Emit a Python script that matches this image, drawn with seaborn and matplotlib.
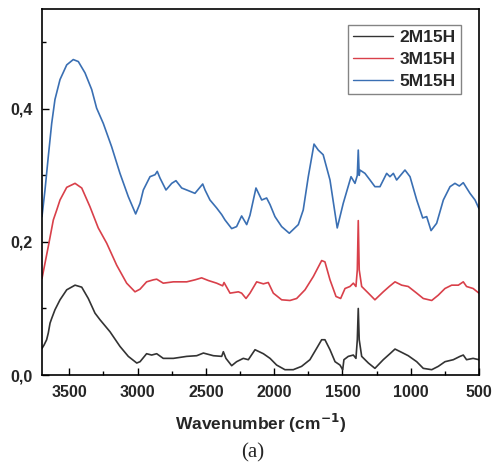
import numpy as np
import pandas as pd
import seaborn as sns
import matplotlib
matplotlib.use("Agg")
import matplotlib.pyplot as plt
from matplotlib.ticker import MultipleLocator

# --- data ---
wn_5m = [3700, 3678, 3654, 3629, 3605, 3568, 3519, 3471, 3434, 3385, 3336, 3300, 3251, 3190,
         3129, 3068, 3014, 2982, 2958, 2909, 2872, 2856, 2836, 2792, 2750, 2719, 2677, 2640,
         2580, 2523, 2506, 2470, 2421, 2384, 2360, 2311, 2275, 2238, 2201, 2177, 2133, 2091,
         2055, 2030, 1994, 1945, 1889, 1823, 1787, 1750, 1708, 1677, 1641, 1591, 1538, 1494,
         1437, 1408, 1391, 1384, 1377, 1372, 1335, 1298, 1262, 1225, 1176, 1152, 1127, 1103,
         1042, 1005, 956, 912, 883, 851, 810, 761, 712, 676, 644, 615, 566, 529, 500]
ab_5m = [0.238, 0.278, 0.328, 0.378, 0.414, 0.444, 0.466, 0.474, 0.471, 0.454, 0.429, 0.401,
         0.378, 0.343, 0.303, 0.268, 0.242, 0.258, 0.278, 0.298, 0.301, 0.306, 0.296, 0.278,
         0.288, 0.292, 0.281, 0.278, 0.273, 0.287, 0.278, 0.263, 0.251, 0.241, 0.233, 0.220,
         0.223, 0.239, 0.226, 0.240, 0.281, 0.263, 0.266, 0.256, 0.238, 0.223, 0.213, 0.226,
         0.248, 0.298, 0.347, 0.338, 0.331, 0.293, 0.221, 0.258, 0.298, 0.288, 0.300, 0.338,
         0.300, 0.308, 0.303, 0.293, 0.283, 0.283, 0.303, 0.298, 0.303, 0.293, 0.308, 0.298,
         0.263, 0.236, 0.238, 0.217, 0.228, 0.263, 0.283, 0.288, 0.284, 0.289, 0.273, 0.263,
         0.250]

wn_3m = [3700, 3654, 3617, 3592, 3568, 3519, 3458, 3409, 3349, 3288, 3226, 3153, 3080, 3019,
         2982, 2934, 2885, 2860, 2812, 2738, 2640, 2580, 2531, 2482, 2421, 2377, 2367, 2323,
         2262, 2238, 2206, 2177, 2128, 2079, 2043, 2006, 1945, 1884, 1835, 1774, 1713, 1652,
         1628, 1591, 1547, 1513, 1481, 1445, 1420, 1401, 1391, 1384, 1377, 1359, 1310, 1262,
         1201, 1157, 1115, 1066, 1018, 956, 908, 846, 798, 749, 700, 651, 615, 591, 543, 500]
ab_3m = [0.145, 0.193, 0.233, 0.248, 0.263, 0.282, 0.288, 0.281, 0.253, 0.221, 0.198, 0.165,
         0.138, 0.125, 0.129, 0.140, 0.143, 0.144, 0.138, 0.140, 0.140, 0.143, 0.146, 0.142,
         0.138, 0.134, 0.139, 0.123, 0.125, 0.123, 0.115, 0.123, 0.140, 0.137, 0.139, 0.123,
         0.113, 0.112, 0.115, 0.128, 0.148, 0.172, 0.170, 0.143, 0.118, 0.115, 0.130, 0.133,
         0.138, 0.133, 0.158, 0.232, 0.158, 0.133, 0.123, 0.113, 0.125, 0.133, 0.140, 0.135,
         0.133, 0.123, 0.115, 0.112, 0.120, 0.130, 0.135, 0.135, 0.140, 0.133, 0.130, 0.123]

wn_2m = [3700, 3685, 3666, 3654, 3641, 3629, 3605, 3568, 3519, 3458, 3409, 3361, 3312, 3275,
         3202, 3129, 3068, 3006, 2982, 2934, 2897, 2860, 2812, 2738, 2640, 2567, 2518, 2445,
         2384, 2372, 2353, 2311, 2275, 2226, 2189, 2140, 2079, 2030, 1982, 1921, 1860, 1799,
         1738, 1689, 1652, 1628, 1591, 1554, 1518, 1498, 1489, 1457, 1420, 1401, 1391, 1384,
         1377, 1359, 1310, 1262, 1201, 1152, 1115, 1066, 1018, 956, 908, 846, 798, 749, 688,
         639, 615, 591, 543, 500]
ab_2m = [0.040, 0.045, 0.053, 0.063, 0.078, 0.085, 0.098, 0.113, 0.128, 0.135, 0.132, 0.115,
         0.093, 0.083, 0.065, 0.043, 0.028, 0.018, 0.020, 0.032, 0.030, 0.032, 0.025, 0.025,
         0.028, 0.029, 0.033, 0.029, 0.028, 0.035, 0.025, 0.014, 0.020, 0.025, 0.023, 0.038,
         0.032, 0.025, 0.015, 0.008, 0.008, 0.013, 0.023, 0.040, 0.053, 0.053, 0.038, 0.020,
         0.015, 0.008, 0.023, 0.028, 0.030, 0.025, 0.053, 0.100, 0.053, 0.028, 0.018, 0.010,
         0.023, 0.032, 0.039, 0.034, 0.029, 0.020, 0.010, 0.008, 0.013, 0.020, 0.023, 0.028,
         0.030, 0.023, 0.025, 0.023]

series_names = ["2M15H", "3M15H", "5M15H"]
colors = ["#333333", "#d9404a", "#3a6fb3"]

df = pd.concat([
    pd.DataFrame({"wn": wn_2m, "ab": ab_2m, "sample": series_names[0]}),
    pd.DataFrame({"wn": wn_3m, "ab": ab_3m, "sample": series_names[1]}),
    pd.DataFrame({"wn": wn_5m, "ab": ab_5m, "sample": series_names[2]}),
])

sns.set_theme(style="white")
plt.rcParams["font.family"] = ["Liberation Sans", "DejaVu Sans"]

fig = plt.figure(figsize=(4.94, 4.68), dpi=100)
ax = fig.add_axes([0.085, 0.1987, 0.8846, 0.7821])

sns.lineplot(data=df, x="wn", y="ab", hue="sample", palette=colors,
             hue_order=series_names, linewidth=1.2, ax=ax, sort=False,
             estimator=None)

ax.set_xlim(3700, 500)
ax.set_ylim(0, 0.55)
ax.xaxis.set_major_locator(MultipleLocator(500))
ax.xaxis.set_minor_locator(MultipleLocator(250))
ax.yaxis.set_major_locator(MultipleLocator(0.2))
ax.yaxis.set_minor_locator(MultipleLocator(0.1))
ax.yaxis.set_major_formatter(plt.FuncFormatter(lambda v, p: f"{v:.1f}".replace(".", ",")))
ax.tick_params(which="both", direction="in", color="black", top=False, right=False,
               bottom=True, left=True)
ax.tick_params(which="major", length=5, width=1.0, labelsize=11.5, pad=7)
ax.tick_params(which="minor", length=3, width=1.0)
for lbl in ax.get_xticklabels() + ax.get_yticklabels():
    lbl.set_fontweight("bold")
for s in ax.spines.values():
    s.set_color("black")
    s.set_linewidth(1.2)

ax.set_xlabel("Wavenumber (cm$^{\\mathbf{-1}}$)", fontsize=12.5, fontweight="bold", labelpad=9)
ax.set_ylabel("")

leg = ax.legend(loc="upper right", bbox_to_anchor=(0.959, 0.956), frameon=True,
                fancybox=False, prop={"weight": "bold", "size": 12.5},
                handlelength=2.3, handletextpad=0.4, borderpad=0.3, labelspacing=0.38,
                borderaxespad=0)
leg.get_frame().set_edgecolor("#666666")
leg.get_frame().set_linewidth(1.0)
for line in leg.get_lines():
    line.set_linewidth(1.0)

fig.text(0.512, 0.022, "(a)", fontsize=15, family=["Liberation Serif"], ha="center")

fig.savefig("out.png", dpi=100, facecolor="white")
